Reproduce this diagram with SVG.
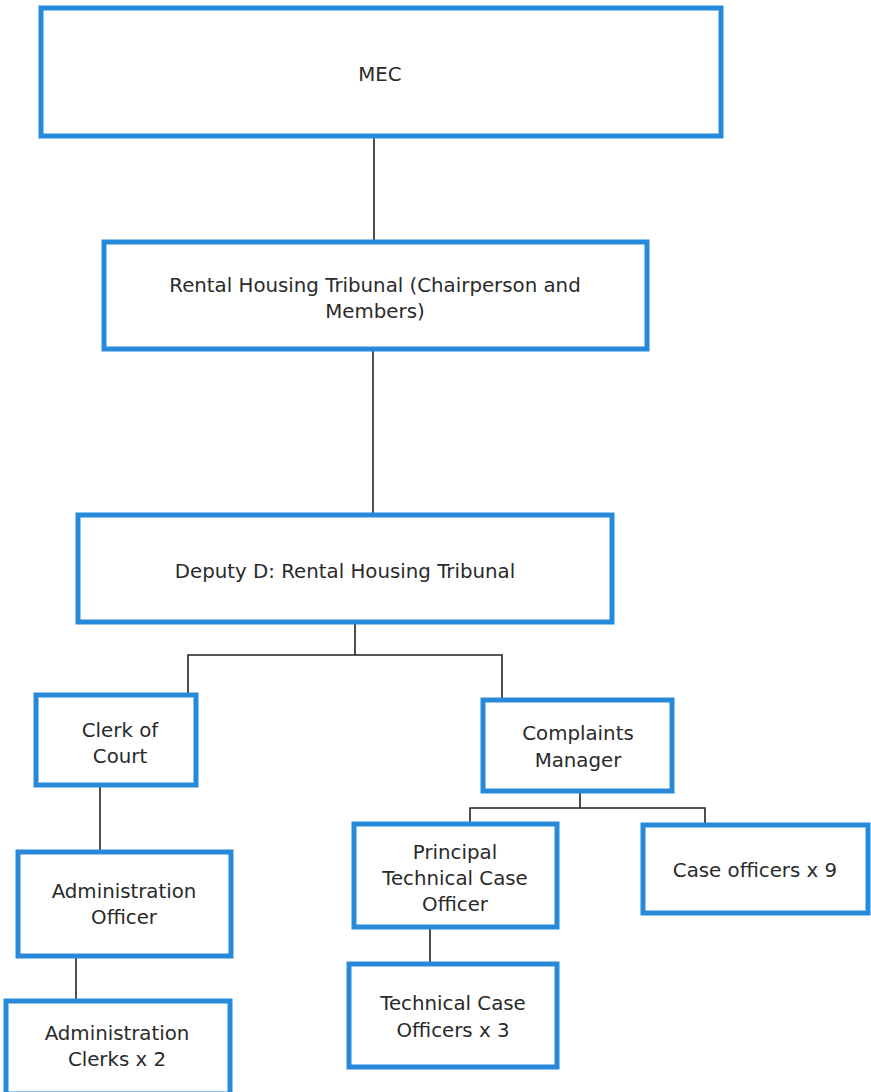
<svg xmlns="http://www.w3.org/2000/svg" width="871" height="1092" viewBox="0 0 871 1092">
<style>
.box{fill:#fff;stroke:#2789d9;stroke-width:5}
.t{font-family:"DejaVu Sans","Liberation Sans",sans-serif;font-size:19.8px;fill:#2a2a2a;text-anchor:middle}
.c{stroke:#222;stroke-width:1.6;fill:none}
</style>
<rect width="871" height="1092" fill="#fff"/>
<g id="connectors">
<path class="c" d="M374 137V240"/>
<path class="c" d="M373 351V513"/>
<path class="c" d="M355 624V655M188 693V655H502V698"/>
<path class="c" d="M100 786V850"/>
<path class="c" d="M76 957V999"/>
<path class="c" d="M580 792V808M470 822V808H705V823"/>
<path class="c" d="M430 928V962"/>
</g>
<g id="mec"><rect class="box" x="41" y="8" width="680" height="128"/><text class="t" x="380" y="81">MEC</text></g>
<g id="rht"><rect class="box" x="104" y="242" width="543" height="107"/><text class="t" x="375" y="292">Rental Housing Tribunal (Chairperson and</text><text class="t" x="375" y="318">Members)</text></g>
<g id="deputy"><rect class="box" x="78" y="515" width="534" height="107"/><text class="t" x="345" y="578">Deputy D: Rental Housing Tribunal</text></g>
<g id="clerk"><rect class="box" x="36" y="695" width="160" height="90"/><text class="t" x="120" y="737">Clerk of</text><text class="t" x="120" y="763">Court</text></g>
<g id="complaints"><rect class="box" x="483" y="700" width="189" height="91"/><text class="t" x="578" y="740">Complaints</text><text class="t" x="578" y="767">Manager</text></g>
<g id="principal"><rect class="box" x="354" y="824" width="203" height="103"/><text class="t" x="455" y="859">Principal</text><text class="t" x="455" y="885">Technical Case</text><text class="t" x="455" y="911">Officer</text></g>
<g id="caseofficers"><rect class="box" x="643" y="825" width="225" height="88"/><text class="t" x="755" y="877">Case officers x 9</text></g>
<g id="adminofficer"><rect class="box" x="18" y="852" width="213" height="104"/><text class="t" x="124" y="898">Administration</text><text class="t" x="124" y="924">Officer</text></g>
<g id="techofficers"><rect class="box" x="349" y="964" width="208" height="103"/><text class="t" x="453" y="1010">Technical Case</text><text class="t" x="453" y="1037">Officers x 3</text></g>
<g id="adminclerks"><rect class="box" x="6" y="1001" width="224" height="93"/><text class="t" x="117" y="1040">Administration</text><text class="t" x="117" y="1066">Clerks x 2</text></g>
</svg>
